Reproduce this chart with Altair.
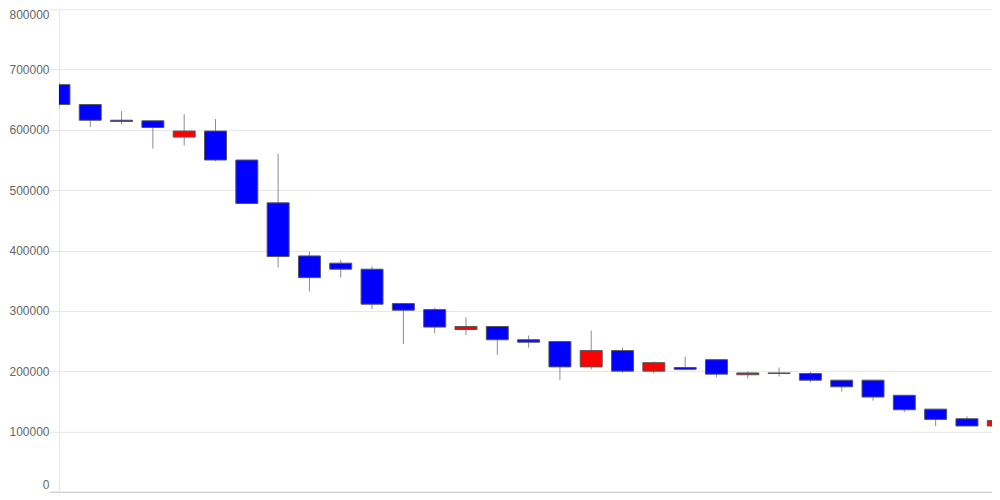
import altair as alt
import pandas as pd

days = list(range(31))
opens = [675000, 642000, 616000, 615000, 588000, 598000, 550000, 479000, 391000, 379000,
         369000, 312000, 302000, 269000, 274000, 252000, 249000, 207000, 234000, 200000,
         206000, 219000, 194000, 197000, 196000, 185000, 185000, 160000, 137000, 121000,
         109000]
highs = [679000, 642000, 631000, 615000, 626000, 618000, 550000, 560000, 398000, 384000,
         374000, 312000, 305000, 289000, 275000, 259000, 249000, 267000, 239000, 216000,
         224000, 219000, 200000, 206000, 199000, 185000, 185000, 160000, 137000, 125000,
         128000]
lows = [635000, 605000, 609000, 569000, 574000, 548000, 478000, 372000, 332000, 355000,
        303000, 245000, 263000, 260000, 227000, 239000, 185000, 203000, 197000, 196000,
        203000, 190000, 188000, 191000, 182000, 166000, 151000, 132000, 109000, 109000,
        108000]
closes = [642000, 616000, 614000, 604000, 598000, 550000, 478000, 390000, 355000, 369000,
          311000, 301000, 273000, 274000, 252000, 248000, 207000, 234000, 200000, 214000,
          203000, 195000, 197000, 196000, 185000, 174000, 157000, 136000, 120000, 109000,
          118000]
y_ticks = [0, 100000, 200000, 300000, 400000, 500000, 600000, 700000, 800000]

df = pd.DataFrame({"day": days, "open": opens, "high": highs, "low": lows, "close": closes})
df["dir"] = ["up" if c > o else "down" for o, c in zip(opens, closes)]

x = alt.X("day:Q", scale=alt.Scale(domain=[0, 29.8], nice=False, zero=False, padding=0), axis=None)

yaxis = alt.Axis(
    values=y_ticks, format="d", title=None,
    tickSize=10, labelPadding=0, labelFlush=True,
    domainColor="#e6e6e6",
    gridColor=alt.condition("datum.value == 0", alt.value("#bfbfbf"), alt.value("#e6e6e6")),
    tickColor=alt.condition("datum.value == 0", alt.value("#bfbfbf"), alt.value("#e6e6e6")),
    labelColor="#666666", labelFont="Liberation Sans", labelFontSize=12,
)
yscale = alt.Scale(domain=[0, 800000], nice=False, padding=0)

wicks = alt.Chart(df).mark_rule(color="#8c8c8c", strokeWidth=1, clip=True).encode(
    x=x,
    y=alt.Y("low:Q", scale=yscale, axis=yaxis),
    y2="high:Q",
)

bodies = alt.Chart(df).mark_bar(size=22, stroke="#555555", strokeWidth=1, clip=True).encode(
    x=x,
    y=alt.Y("open:Q", scale=yscale),
    y2="close:Q",
    color=alt.Color("dir:N", scale=alt.Scale(domain=["up", "down"], range=["#ff0000", "#0000ff"]), legend=None),
)

chart = alt.layer(wicks, bodies).properties(
    width=934, height=483, padding=0
).configure_view(strokeWidth=0)

chart.save("out.html", embed_options={"renderer": "svg", "actions": False})
